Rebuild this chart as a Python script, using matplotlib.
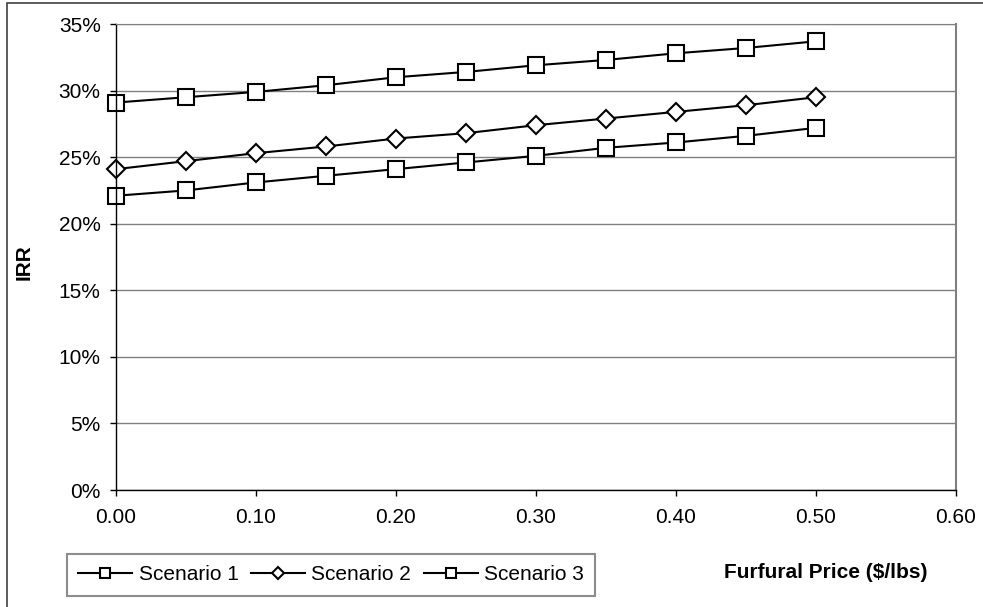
import matplotlib
matplotlib.use("Agg")
import matplotlib.pyplot as plt
from matplotlib.patches import Rectangle
from matplotlib.ticker import FuncFormatter

plt.rcParams['font.family'] = ['Liberation Sans', 'DejaVu Sans']

price = [0.00, 0.05, 0.10, 0.15, 0.20, 0.25, 0.30, 0.35, 0.40, 0.45, 0.50]
scenario1 = [29.1, 29.5, 29.9, 30.4, 31.0, 31.4, 31.9, 32.3, 32.8, 33.2, 33.7]
scenario2 = [24.1, 24.7, 25.3, 25.8, 26.4, 26.8, 27.4, 27.9, 28.4, 28.9, 29.5]
scenario3 = [22.1, 22.5, 23.1, 23.6, 24.1, 24.6, 25.1, 25.7, 26.1, 26.6, 27.2]
x_ticks = [0.0, 0.1, 0.2, 0.3, 0.4, 0.5, 0.6]
y_ticks = [0, 5, 10, 15, 20, 25, 30, 35]

W, H = 983, 607
FS = 15
fig = plt.figure(figsize=(W / 100, H / 100), dpi=100)
ax = fig.add_axes([116 / W, 1 - 490 / H, (956 - 116) / W, (490 - 24) / H])

# outer frame of the chart area
fig.add_artist(Rectangle((7 / W, -0.02), 1.1, 1 - 3 / H + 0.02, transform=fig.transFigure,
                         fill=False, edgecolor='#404040', linewidth=1.2))

line_kw = dict(color='black', linewidth=1.5, markersize=11, markerfacecolor='white',
               markeredgecolor='black', markeredgewidth=1.5, clip_on=False)
h1, = ax.plot(price, scenario1, marker='s', label='Scenario 1', **line_kw)
h2, = ax.plot(price, scenario2, marker='D', label='Scenario 2', **{**line_kw, 'markersize': 9})
h3, = ax.plot(price, scenario3, marker='s', label='Scenario 3', **line_kw)

ax.set_xlim(0, 0.6)
ax.set_ylim(0, 35)
ax.set_xticks(x_ticks)
ax.set_yticks(y_ticks)
ax.xaxis.set_major_formatter(FuncFormatter(lambda v, p: f"{v:.2f}"))
ax.yaxis.set_major_formatter(FuncFormatter(lambda v, p: f"{v:.0f}%"))
ax.grid(axis='y', color='#808080', linewidth=1.0)
ax.set_axisbelow(True)
for s in ['left', 'bottom']:
    ax.spines[s].set_color('black')
    ax.spines[s].set_linewidth(1.0)
ax.spines['right'].set_color('#808080')
ax.spines['top'].set_color('#808080')
ax.spines['right'].set_linewidth(1.5)
ax.tick_params(axis='both', direction='out', length=4, width=1, color='black',
               labelsize=FS)
ax.tick_params(axis='y', pad=7)
ax.tick_params(axis='x', pad=9)

fig.text(24 / W, 1 - 262 / H, 'IRR', rotation=90, fontsize=FS, fontweight='bold',
         ha='center', va='center')
fig.text(826 / W, 1 - 572 / H, 'Furfural Price ($/lbs)', fontsize=FS, fontweight='bold',
         ha='center', va='center')

leg = fig.legend(handles=[h1, h2, h3], loc='center', bbox_to_anchor=(331 / W, 1 - 575 / H),
                 ncol=3, frameon=True, fancybox=False, fontsize=FS, handlelength=2.6,
                 handletextpad=0.3, columnspacing=0.6, borderpad=0.55, markerscale=0.7,
                 borderaxespad=0)
leg.get_frame().set_edgecolor('#707070')
leg.get_frame().set_linewidth(1.5)

fig.savefig('out.png', dpi=100)
